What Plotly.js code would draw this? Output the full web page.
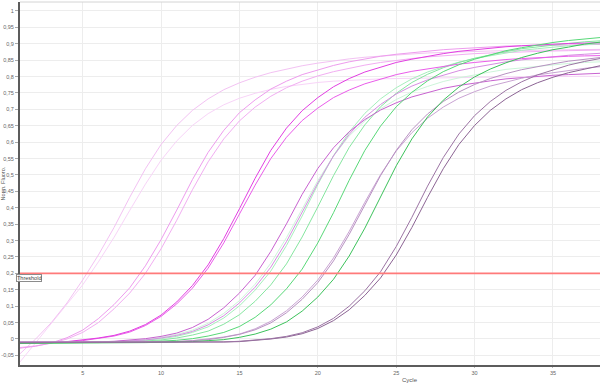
<!DOCTYPE html>
<html>
<head>
<meta charset="utf-8">
<script src="https://cdn.plot.ly/plotly-3.0.1.min.js"></script>
<style>html,body{margin:0;padding:0;background:#fff;}#chart{width:600px;height:383px;}</style>
</head>
<body>
<div id="chart"></div>
<script>
// ---- data (normalized fluorescence per cycle) ----
const cycles = [1,2,3,4,5,6,7,8,9,10,11,12,13,14,15,16,17,18,19,20,21,22,23,24,25,26,27,28,29,30,31,32,33,34,35,36,37,38];

const a1 = [-0.045,0.000,0.050,0.110,0.180,0.256,0.340,0.432,0.519,0.593,0.651,0.697,0.732,0.760,0.781,0.798,0.812,0.823,0.833,0.841,0.848,0.854,0.859,0.863,0.866,0.869,0.872,0.874,0.876,0.877,0.878,0.879,0.880,0.881,0.882,0.882,0.883,0.883];
const a2 = [-0.070,-0.012,0.046,0.104,0.165,0.235,0.310,0.392,0.472,0.545,0.604,0.651,0.687,0.714,0.734,0.749,0.761,0.770,0.777,0.782,0.786,0.789,0.791,0.793,0.794,0.795,0.796,0.797,0.797,0.798,0.798,0.799,0.799,0.800,0.800,0.800,0.801,0.801];
const b1 = [-0.028,-0.022,-0.012,0.004,0.027,0.062,0.105,0.156,0.223,0.303,0.393,0.486,0.569,0.636,0.690,0.729,0.762,0.786,0.806,0.821,0.834,0.845,0.854,0.862,0.868,0.873,0.878,0.882,0.885,0.888,0.890,0.893,0.894,0.895,0.896,0.897,0.898,0.898];
const b2 = [-0.026,-0.021,-0.013,0.000,0.020,0.050,0.092,0.140,0.200,0.275,0.362,0.455,0.540,0.610,0.665,0.707,0.740,0.766,0.786,0.802,0.815,0.826,0.835,0.843,0.850,0.855,0.860,0.864,0.867,0.870,0.872,0.874,0.876,0.877,0.878,0.879,0.880,0.881];
const c1 = [-0.012,-0.012,-0.011,-0.008,-0.003,0.003,0.011,0.024,0.044,0.073,0.113,0.163,0.226,0.306,0.397,0.490,0.575,0.643,0.696,0.736,0.769,0.794,0.814,0.829,0.843,0.853,0.862,0.870,0.877,0.882,0.887,0.891,0.894,0.897,0.899,0.901,0.902,0.903];
const c2 = [-0.014,-0.013,-0.012,-0.009,-0.005,0.001,0.009,0.021,0.041,0.069,0.107,0.155,0.216,0.293,0.379,0.469,0.550,0.615,0.666,0.704,0.736,0.759,0.778,0.793,0.806,0.816,0.824,0.832,0.838,0.843,0.848,0.852,0.855,0.858,0.860,0.862,0.863,0.864];
const m1 = [-0.010,-0.010,-0.010,-0.010,-0.010,-0.009,-0.007,-0.004,0.001,0.008,0.018,0.035,0.060,0.095,0.140,0.194,0.267,0.351,0.441,0.520,0.583,0.632,0.669,0.698,0.720,0.738,0.752,0.764,0.773,0.781,0.787,0.793,0.797,0.801,0.804,0.806,0.808,0.810];
const m2 = [-0.009,-0.009,-0.009,-0.009,-0.009,-0.009,-0.008,-0.006,-0.003,0.003,0.011,0.023,0.043,0.071,0.110,0.158,0.219,0.297,0.385,0.476,0.558,0.624,0.676,0.715,0.747,0.771,0.790,0.805,0.818,0.828,0.837,0.845,0.851,0.856,0.861,0.865,0.868,0.871];
const mintPale = [-0.011,-0.011,-0.011,-0.011,-0.010,-0.010,-0.008,-0.005,-0.002,0.005,0.014,0.027,0.048,0.078,0.117,0.167,0.231,0.309,0.397,0.483,0.558,0.619,0.665,0.702,0.730,0.753,0.770,0.785,0.796,0.806,0.814,0.822,0.827,0.832,0.836,0.840,0.843,0.845];
const mint2 = [-0.012,-0.012,-0.011,-0.011,-0.011,-0.010,-0.009,-0.007,-0.004,0.001,0.008,0.020,0.037,0.064,0.101,0.149,0.207,0.285,0.375,0.471,0.559,0.631,0.688,0.732,0.766,0.793,0.814,0.830,0.844,0.855,0.864,0.873,0.880,0.885,0.890,0.894,0.897,0.900];
const lightGreen = [-0.013,-0.012,-0.012,-0.011,-0.011,-0.011,-0.010,-0.009,-0.006,-0.003,0.003,0.012,0.024,0.045,0.074,0.115,0.165,0.229,0.311,0.403,0.498,0.584,0.653,0.708,0.749,0.782,0.807,0.827,0.843,0.856,0.867,0.876,0.885,0.891,0.896,0.901,0.906,0.909];
const green = [-0.012,-0.012,-0.012,-0.011,-0.011,-0.011,-0.010,-0.010,-0.009,-0.007,-0.004,0.001,0.009,0.020,0.038,0.066,0.104,0.153,0.213,0.293,0.385,0.484,0.575,0.649,0.708,0.752,0.787,0.815,0.836,0.853,0.867,0.879,0.888,0.897,0.904,0.910,0.915,0.919];
const p1 = [-0.009,-0.009,-0.009,-0.009,-0.009,-0.009,-0.009,-0.009,-0.009,-0.009,-0.008,-0.005,0.000,0.006,0.015,0.031,0.054,0.086,0.128,0.180,0.247,0.328,0.417,0.501,0.573,0.629,0.673,0.707,0.734,0.754,0.771,0.784,0.795,0.805,0.812,0.819,0.825,0.830];
const p2 = [-0.010,-0.010,-0.010,-0.010,-0.010,-0.010,-0.010,-0.010,-0.010,-0.010,-0.008,-0.005,-0.002,0.005,0.014,0.028,0.049,0.080,0.121,0.172,0.238,0.319,0.409,0.498,0.575,0.638,0.686,0.724,0.753,0.776,0.794,0.809,0.821,0.831,0.839,0.847,0.853,0.858];
const greenDark = [-0.013,-0.013,-0.012,-0.012,-0.012,-0.011,-0.011,-0.011,-0.011,-0.010,-0.010,-0.008,-0.005,-0.002,0.005,0.015,0.030,0.052,0.085,0.128,0.182,0.253,0.338,0.434,0.528,0.610,0.677,0.728,0.768,0.799,0.823,0.842,0.858,0.871,0.882,0.890,0.899,0.905];
const d1 = [-0.010,-0.010,-0.010,-0.010,-0.010,-0.010,-0.010,-0.010,-0.010,-0.010,-0.010,-0.010,-0.010,-0.009,-0.007,-0.004,0.001,0.008,0.019,0.037,0.063,0.100,0.147,0.205,0.282,0.371,0.466,0.553,0.625,0.681,0.724,0.758,0.784,0.805,0.821,0.835,0.846,0.855];
const d2 = [-0.011,-0.011,-0.011,-0.011,-0.011,-0.011,-0.011,-0.011,-0.011,-0.011,-0.011,-0.011,-0.010,-0.009,-0.008,-0.005,0.000,0.006,0.016,0.032,0.056,0.089,0.133,0.186,0.256,0.340,0.432,0.519,0.593,0.651,0.697,0.732,0.760,0.781,0.798,0.812,0.823,0.833];

const threshold = 0.2;
const xTickVals = [5,10,15,20,25,30,35];
const xTickText = ['5','10','15','20','25','30','35'];
const yTickVals = [-0.05,0,0.05,0.1,0.15,0.2,0.25,0.3,0.35,0.4,0.45,0.5,0.55,0.6,0.65,0.7,0.75,0.8,0.85,0.9,0.95,1];
const yTickText = ['-0,05','0','0,05','0,1','0,15','0,2','0,25','0,3','0,35','0,4','0,45','0,5','0,55','0,6','0,65','0,7','0,75','0,8','0,85','0,9','0,95','1'];

// ---- series styling ----
const series = [
  {y: a2, color: '#f8d4f8'},
  {y: a1, color: '#f3c2f3'},
  {y: b2, color: '#f2aef2'},
  {y: b1, color: '#ee9cee'},
  {y: mintPale, color: '#cdf5da'},
  {y: mint2, color: '#a6efbd'},
  {y: lightGreen, color: '#86e6a0'},
  {y: m2, color: '#d68de2'},
  {y: c2, color: '#ea5cea'},
  {y: c1, color: '#e23ee2'},
  {y: m1, color: '#c862d0'},
  {y: green, color: '#58d878'},
  {y: p1, color: '#c9a3d3'},
  {y: p2, color: '#b892c2'},
  {y: greenDark, color: '#3cc25b'},
  {y: d2, color: '#8c6494'},
  {y: d1, color: '#9c74a4'}
];

const traces = series.map(s => ({
  x: cycles, y: s.y, type: 'scatter', mode: 'lines',
  line: {color: s.color, width: 1}, hoverinfo: 'skip'
}));

const fontFam = 'Liberation Sans, Arial, sans-serif';
const tickFont = {family: fontFam, size: 5.5, color: '#666'};

const layout = {
  width: 600, height: 383,
  margin: {l: 20, r: 0, t: 2, b: 18, pad: 0},
  paper_bgcolor: '#ffffff', plot_bgcolor: '#ffffff',
  showlegend: false,
  xaxis: {
    range: [1, 38], tickmode: 'array', tickvals: xTickVals, ticktext: xTickText,
    showgrid: true, gridcolor: '#ededed', gridwidth: 1, zeroline: false,
    showline: true, linecolor: '#5c5c5c', linewidth: 2,
    ticks: 'outside', ticklen: 1, tickcolor: '#bbb', tickfont: tickFont, automargin: false
  },
  yaxis: {
    range: [-0.0793, 1.0274], tickmode: 'array', tickvals: yTickVals, ticktext: yTickText,
    showgrid: true, gridcolor: '#ededed', gridwidth: 1, zeroline: false,
    showline: true, linecolor: '#5c5c5c', linewidth: 2,
    ticks: 'outside', ticklen: 3, tickcolor: '#aaa', tickfont: tickFont, automargin: false
  },
  shapes: [
    {type: 'line', xref: 'paper', x0: 0, x1: 1, yref: 'y', y0: threshold, y1: threshold,
     line: {color: '#ff7a7a', width: 1.6}},
    {type: 'line', xref: 'paper', x0: 0, x1: 1, yref: 'paper', y0: 1, y1: 1,
     line: {color: '#d4d4d4', width: 1}}
  ],
  annotations: [
    {text: 'Threshold', xref: 'paper', x: -0.0075, xanchor: 'left', yref: 'y', y: threshold,
     yanchor: 'top', yshift: -1, showarrow: false, font: {family: fontFam, size: 5.5, color: '#444'},
     bgcolor: 'rgba(255,255,255,0.85)', bordercolor: '#8c8c8c', borderwidth: 1, borderpad: 0},
    {text: 'Cycle', xref: 'paper', x: 0.672, xanchor: 'center', yref: 'paper', y: -0.040, yanchor: 'middle',
     showarrow: false, font: {family: fontFam, size: 6, color: '#555'}},
    {text: 'Norm. Fluoro.', xref: 'paper', x: -0.0295, xanchor: 'center', yref: 'paper', y: 0.5, yanchor: 'middle',
     textangle: -90, showarrow: false, font: {family: fontFam, size: 5.5, color: '#555'}}
  ]
};

Plotly.newPlot('chart', traces, layout, {displayModeBar: false, staticPlot: true});
</script>
</body>
</html>
